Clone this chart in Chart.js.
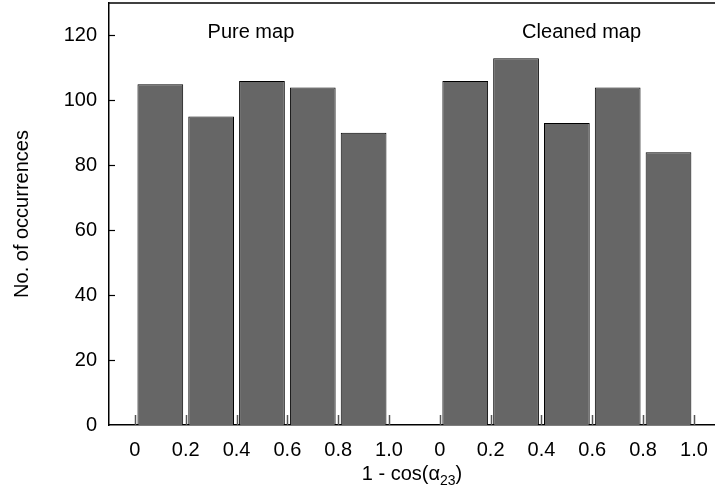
<!DOCTYPE html>
<html>
<head>
<meta charset="utf-8">
<script src="https://cdn.jsdelivr.net/npm/chart.js@4.4.0/dist/chart.umd.min.js"></script>
<style>
  html, body { margin: 0; padding: 0; background: #fff; }
  canvas { display: block; }
</style>
</head>
<body>
<canvas id="histChart" width="715" height="495"></canvas>
<script>
// Дані гістограм (відліки з картинки)
const binLabels = ['0', '0.2', '0.4', '0.6', '0.8', '1.0'];
const pureCounts = [105, 95, 106, 104, 90];
const cleanedCounts = [106, 113, 93, 104, 84];
const yTicks = [0, 20, 40, 60, 80, 100, 120];
const panelTitles = ['Pure map', 'Cleaned map'];

const binWidth = 0.2;
const cleanedOffset = 1.2; // друга панель зсунута по осі x

const FONT = 'Liberation Sans, Arial, Helvetica, sans-serif';

// позиції тиків по x і їх підписи для обох панелей
const xTickValues = [];
const xTickLabels = [];
[0, cleanedOffset].forEach(off => {
    binLabels.forEach((lab, i) => {
        xTickValues.push(off + i * binWidth);
        xTickLabels.push(lab);
    });
});

function toPoints(counts, off) {
    return counts.map((c, i) => ({ x: off + i * binWidth + binWidth / 2, y: c }));
}

// Плагін: внутрішні тики, верхня рамка, підписи панелей і назва осі x
const decorPlugin = {
    id: 'decor',
    afterDatasetsDraw(chart) {
        const { ctx, chartArea, scales } = chart;
        const xs = scales.x, ys = scales.y;
        ctx.save();

        // тики по x (всередину)
        ctx.strokeStyle = '#555';
        ctx.lineWidth = 1.5;
        xTickValues.forEach(v => {
            const px = Math.round(xs.getPixelForValue(v)) + 0.5;
            ctx.beginPath();
            ctx.moveTo(px, chartArea.bottom);
            ctx.lineTo(px, chartArea.bottom - 10);
            ctx.stroke();
        });

        // тики по y (всередину)
        ctx.strokeStyle = '#000';
        ctx.lineWidth = 1.2;
        yTicks.forEach(v => {
            if (v === 0) return;
            const py = Math.round(ys.getPixelForValue(v)) + 0.5;
            ctx.beginPath();
            ctx.moveTo(chartArea.left, py);
            ctx.lineTo(chartArea.left + 6, py);
            ctx.stroke();
        });

        // верхня лінія рамки
        ctx.strokeStyle = '#000';
        ctx.lineWidth = 1.5;
        ctx.beginPath();
        ctx.moveTo(chartArea.left, chartArea.top);
        ctx.lineTo(chartArea.right, chartArea.top);
        ctx.stroke();

        // підписи панелей
        ctx.fillStyle = '#000';
        ctx.font = '20px ' + FONT;
        ctx.textAlign = 'center';
        ctx.textBaseline = 'alphabetic';
        const titleX = [0.4565, 1.758];
        panelTitles.forEach((t, i) => {
            ctx.fillText(t, xs.getPixelForValue(titleX[i]), ys.getPixelForValue(119.2));
        });

        // назва осі x з нижнім індексом
        const main = '1 - cos(\u03B1';
        const sub = '23';
        const tail = ')';
        ctx.textAlign = 'left';
        ctx.font = '20px ' + FONT;
        const wMain = ctx.measureText(main).width;
        const wTail = ctx.measureText(tail).width;
        ctx.font = '14px ' + FONT;
        const wSub = ctx.measureText(sub).width;
        const total = wMain + wSub + wTail;
        let x0 = (chartArea.left + chartArea.right) / 2 - total / 2;
        const base = 480;
        ctx.font = '20px ' + FONT;
        ctx.fillText(main, x0, base);
        ctx.font = '14px ' + FONT;
        ctx.fillText(sub, x0 + wMain, base + 5);
        ctx.font = '20px ' + FONT;
        ctx.fillText(tail, x0 + wMain + wSub, base);

        ctx.restore();
    }
};

const ctx = document.getElementById('histChart').getContext('2d');
const histChart = new Chart(ctx, {
    type: 'bar',
    data: {
        datasets: [
            {
                label: panelTitles[0],
                data: toPoints(pureCounts, 0),
                backgroundColor: '#666666',
                borderColor: '#000',
                borderWidth: 1,
                barPercentage: 0.9,
                categoryPercentage: 1.0
            },
            {
                label: panelTitles[1],
                data: toPoints(cleanedCounts, cleanedOffset),
                backgroundColor: '#666666',
                borderColor: '#000',
                borderWidth: 1,
                barPercentage: 0.9,
                categoryPercentage: 1.0
            }
        ]
    },
    options: {
        responsive: false,
        animation: false,
        grouped: false,
        layout: { padding: { top: 3, right: 0, left: 0, bottom: 0 } },
        plugins: {
            legend: { display: false },
            tooltip: { enabled: false }
        },
        scales: {
            x: {
                type: 'linear',
                offset: false,
                min: -0.102,
                max: 2.283,
                grid: { display: false, drawTicks: false },
                border: { display: true, color: '#000', width: 1.5 },
                afterBuildTicks: scale => {
                    scale.ticks = xTickValues.map(v => ({ value: v }));
                },
                afterFit: scale => {
                    scale.height = 70;
                    scale.paddingLeft = 0;
                    scale.paddingRight = 0;
                },
                ticks: {
                    autoSkip: false,
                    maxRotation: 0,
                    padding: 13,
                    color: '#000',
                    font: { family: FONT, size: 20 },
                    callback: (value, index) => xTickLabels[index]
                }
            },
            y: {
                min: 0,
                max: 130,
                grid: { display: false, drawTicks: false },
                border: { display: true, color: '#000', width: 1.5 },
                afterBuildTicks: scale => {
                    scale.ticks = yTicks.map(v => ({ value: v }));
                },
                afterFit: scale => {
                    scale.width = 109;
                    scale.paddingTop = 0;
                    scale.paddingBottom = 0;
                },
                ticks: {
                    padding: 12,
                    color: '#000',
                    font: { family: FONT, size: 20 }
                },
                title: {
                    display: true,
                    text: 'No. of occurrences',
                    color: '#000',
                    font: { family: FONT, size: 20 },
                    padding: { top: 10, bottom: 0 }
                }
            }
        }
    },
    plugins: [decorPlugin]
});
</script>
</body>
</html>
